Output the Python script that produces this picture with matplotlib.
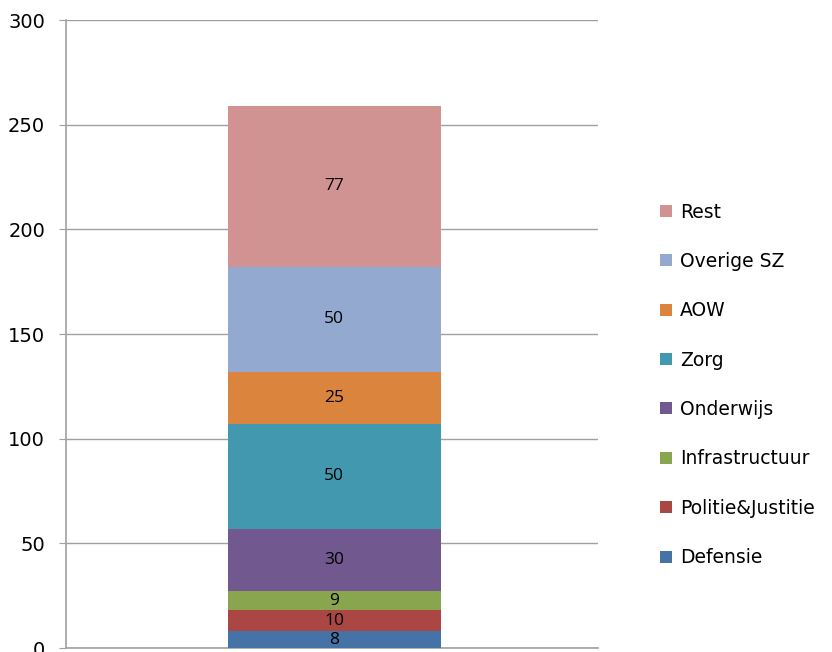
import matplotlib.pyplot as plt

categories = ["Defensie", "Politie&Justitie", "Infrastructuur", "Onderwijs",
              "Zorg", "AOW", "Overige SZ", "Rest"]
values = [8, 10, 9, 30, 50, 25, 50, 77]
colors = ["#4572A7", "#AA4643", "#89A54E", "#71588F",
          "#4198AF", "#DB843D", "#93A9CF", "#D19392"]
yticks = [0, 50, 100, 150, 200, 250, 300]

fig = plt.figure(figsize=(8.32, 6.52), dpi=100)
ax = fig.add_axes([66 / 832, 4 / 652, 532 / 832, 628 / 652])

bottom = 0
handles = []
for cat, val, col in zip(categories, values, colors):
    b = ax.bar(0.008, val, width=0.8, bottom=bottom, color=col, label=cat, zorder=3)
    handles.append(b)
    ax.text(0.008, bottom + val / 2, str(val), ha="center", va="center",
            fontsize=12.5, family="Open Sans", color="black", zorder=4)
    bottom += val

ax.set_xlim(-1, 1)
ax.set_ylim(0, 300)
ax.set_yticks(yticks)
ax.set_xticks([])
ax.yaxis.grid(True, color="#a0a0a0", linewidth=1, zorder=0)
ax.tick_params(axis="y", length=5, color="#a0a0a0", labelsize=14, pad=10)
for s in ["top", "right"]:
    ax.spines[s].set_visible(False)
for s in ["left", "bottom"]:
    ax.spines[s].set_color("#a0a0a0")
    ax.spines[s].set_linewidth(1.2)

leg = ax.legend(handles[::-1], categories[::-1], loc="center left",
                bbox_to_anchor=(1.103, 0.419), frameon=False, fontsize=13.5,
                handlelength=0.6, handleheight=0.6, handletextpad=0.45,
                labelspacing=1.62, borderaxespad=0)

fig.savefig("out.png", dpi=100)
